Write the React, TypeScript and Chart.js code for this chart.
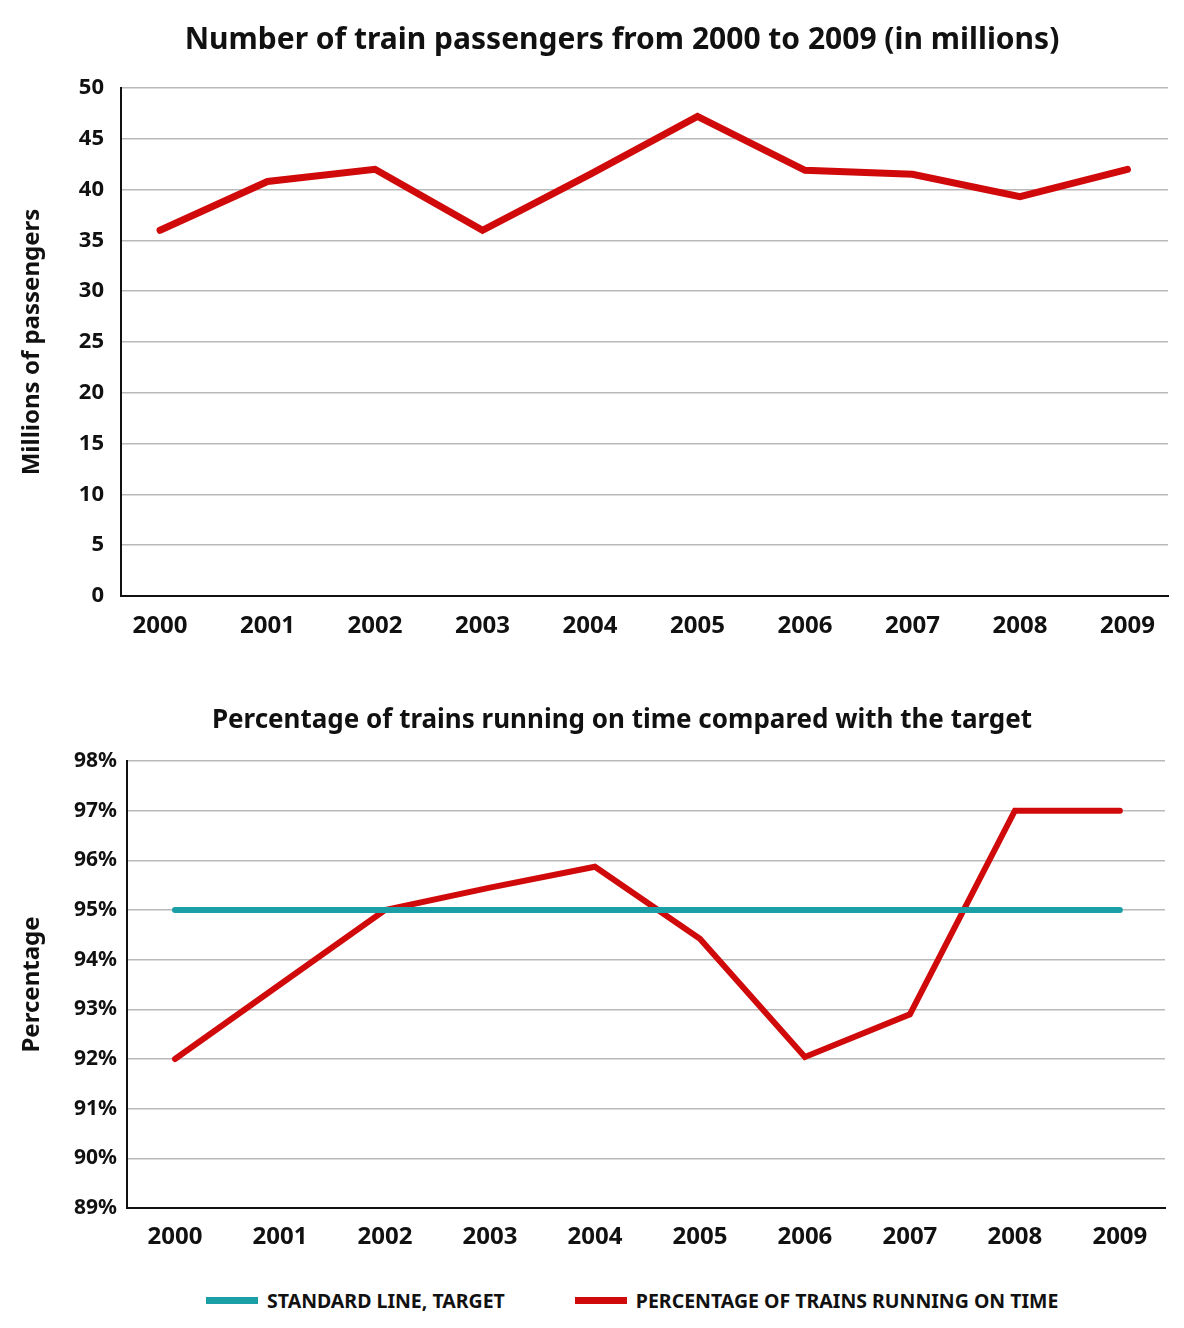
import { useEffect, useRef } from "react"
import { Chart, registerables } from "chart.js"

Chart.register(...registerables)

const years = ["2000", "2001", "2002", "2003", "2004", "2005", "2006", "2007", "2008", "2009"]
const passengers = [36, 40.8, 42, 36, 41.5, 47.2, 41.9, 41.5, 39.3, 42]
const onTimePct = [92, 93.5, 95, 95.45, 95.87, 94.42, 92.04, 92.9, 97, 97]
const targetPct = [95, 95, 95, 95, 95, 95, 95, 95, 95, 95]

const FONT = "'Noto Sans', 'DejaVu Sans', sans-serif"
const RED = "#d00a0a"
const TEAL = "#1a9fa7"
const INK = "#111111"
const GRID = "#b9b9b9"

const yearTick = (v: number | string) => {
  const n = Number(v)
  return Number.isInteger(n) && years[n] ? years[n] : ""
}

function PassengersChart() {
  const ref = useRef<HTMLCanvasElement>(null)

  useEffect(() => {
    if (!ref.current) return
    const chart = new Chart(ref.current, {
      type: "line",
      data: {
        datasets: [
          {
            data: passengers.map((v, i) => ({ x: i, y: v })),
            borderColor: RED,
            borderWidth: 7,
            pointRadius: 0,
            borderCapStyle: "round",
            borderJoinStyle: "miter",
            tension: 0,
          },
        ],
      },
      options: {
        animation: false,
        responsive: false,
        layout: { padding: { top: 88, right: 16, bottom: 0, left: 0 } },
        plugins: {
          legend: { display: false },
          tooltip: { enabled: false },
        },
        scales: {
          x: {
            type: "linear",
            min: -0.363,
            max: 9.377,
            grid: { display: false, drawTicks: false },
            border: { display: true, color: INK, width: 2 },
            ticks: {
              stepSize: 1,
              includeBounds: false,
              autoSkip: false,
              maxRotation: 0,
              padding: 16,
              color: INK,
              font: { family: FONT, size: 24, weight: "bold" },
              callback: yearTick,
            },
            afterFit: (s) => {
              s.height = 64
            },
          },
          y: {
            min: 0,
            max: 50,
            grid: { color: GRID, lineWidth: 1.5, drawTicks: false },
            border: { display: true, color: INK, width: 2 },
            ticks: {
              stepSize: 5,
              padding: 17,
              color: INK,
              font: { family: FONT, size: 22, weight: "bold" },
            },
            title: {
              display: true,
              text: "Millions of passengers",
              color: INK,
              font: { family: FONT, size: 24, weight: "bold" },
              padding: { top: 18, bottom: 0 },
            },
            afterFit: (s) => {
              s.width = 121
            },
          },
        },
      },
    })
    return () => chart.destroy()
  }, [])

  return <canvas ref={ref} width={1184} height={660} style={{ display: "block", width: 1184, height: 660 }} />
}

function OnTimeChart() {
  const ref = useRef<HTMLCanvasElement>(null)

  useEffect(() => {
    if (!ref.current) return
    const chart = new Chart(ref.current, {
      type: "line",
      data: {
        datasets: [
          {
            label: "STANDARD LINE, TARGET",
            data: targetPct.map((v, i) => ({ x: i, y: v })),
            borderColor: TEAL,
            borderWidth: 6,
            pointRadius: 0,
            borderCapStyle: "round",
            tension: 0,
          },
          {
            label: "PERCENTAGE OF TRAINS RUNNING ON TIME",
            data: onTimePct.map((v, i) => ({ x: i, y: v })),
            borderColor: RED,
            borderWidth: 6,
            pointRadius: 0,
            borderCapStyle: "round",
            borderJoinStyle: "miter",
            tension: 0,
          },
        ],
      },
      options: {
        animation: false,
        responsive: false,
        layout: { padding: { top: 101, right: 19, bottom: 0, left: 0 } },
        plugins: {
          legend: { display: false },
          tooltip: { enabled: false },
        },
        scales: {
          x: {
            type: "linear",
            min: -0.457,
            max: 9.43,
            grid: { display: false, drawTicks: false },
            border: { display: true, color: INK, width: 2 },
            ticks: {
              stepSize: 1,
              includeBounds: false,
              autoSkip: false,
              maxRotation: 0,
              padding: 15,
              color: INK,
              font: { family: FONT, size: 24, weight: "bold" },
              callback: yearTick,
            },
            afterFit: (s) => {
              s.height = 52
            },
          },
          y: {
            min: 89,
            max: 98,
            grid: { color: GRID, lineWidth: 1.5, drawTicks: false },
            border: { display: true, color: INK, width: 2 },
            ticks: {
              stepSize: 1,
              padding: 10,
              color: INK,
              font: { family: FONT, size: 21, weight: "bold" },
              callback: (v) => v + "%",
            },
            title: {
              display: true,
              text: "Percentage",
              color: INK,
              font: { family: FONT, size: 24, weight: "bold" },
              padding: { top: 18, bottom: 0 },
            },
            afterFit: (s) => {
              s.width = 127
            },
          },
        },
      },
    })
    return () => chart.destroy()
  }, [])

  return <canvas ref={ref} width={1184} height={600} style={{ display: "block", width: 1184, height: 600 }} />
}

function LegendItem({ color, text }: { color: string; text: string }) {
  return (
    <div style={{ display: "flex", alignItems: "center" }}>
      <span style={{ display: "inline-block", width: 52, height: 7, background: color, marginRight: 9 }} />
      <span style={{ fontFamily: FONT, fontWeight: 700, fontSize: 19.5, color: INK }}>{text}</span>
    </div>
  )
}

const titleStyle = (top: number, size: number) => ({
  position: "absolute" as const,
  left: 0,
  top,
  width: 1244,
  textAlign: "center" as const,
  fontFamily: FONT,
  fontWeight: 700,
  fontSize: size,
  lineHeight: "36px",
  color: INK,
})

export default function App() {
  return (
    <div style={{ position: "absolute", left: 0, top: 0, width: 1184, height: 1328, background: "#fff", overflow: "hidden" }}>
      <PassengersChart />
      <OnTimeChart />
      <div style={{ display: "flex", alignItems: "center", height: 80, paddingLeft: 206, gap: 70 }}>
        <LegendItem color={TEAL} text="STANDARD LINE, TARGET" />
        <LegendItem color={RED} text="PERCENTAGE OF TRAINS RUNNING ON TIME" />
      </div>
      <div style={titleStyle(20, 30)}>Number of train passengers from 2000 to 2009 (in millions)</div>
      <div style={titleStyle(700, 26)}>Percentage of trains running on time compared with the target</div>
    </div>
  )
}
